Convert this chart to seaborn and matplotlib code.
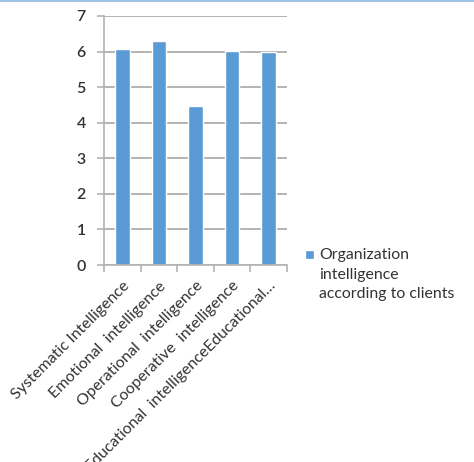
import matplotlib
matplotlib.use("Agg")
import matplotlib.pyplot as plt
from matplotlib.lines import Line2D
import seaborn as sns
import pandas as pd

categories = [
    "Systematic Intelligence",
    "Emotional  intelligence",
    "Operational  intelligence",
    "Cooperative  intelligence",
    "Educational  intelligenceEducational\u2026",
]
values = [6.07, 6.31, 4.46, 6.02, 5.99]
series_name = "Organization\nintelligence\naccording to clients"
y_ticks = [0, 1, 2, 3, 4, 5, 6, 7]

sns.set_theme(style="white")
plt.rcParams["font.family"] = ["Lato", "DejaVu Sans"]

text_color = "#333333"
grid_color = "#b3b3b3"
bar_color = "#5b9bd5"

df = pd.DataFrame({"category": categories, "value": values})

fig = plt.figure(figsize=(4.74, 4.62), dpi=100)
fig.patch.set_facecolor("white")
ax = fig.add_axes([0.2194, 0.4264, 0.3861, 0.539])

sns.barplot(data=df, x="category", y="value", color=bar_color, width=0.4,
            saturation=1, label=series_name, ax=ax)

ax.set_ylim(0, 7)
ax.set_xlim(-0.5, len(categories) - 0.5)
ax.set_yticks(y_ticks)
ax.set_yticklabels([str(t) for t in y_ticks], fontsize=11.5, color=text_color,
                   fontweight="semibold")
ax.yaxis.grid(True, color=grid_color, linewidth=1.4)
ax.set_axisbelow(True)
ax.set_xlabel("")
ax.set_ylabel("")

for side in ["top", "right"]:
    ax.spines[side].set_visible(False)
for side in ["left", "bottom"]:
    ax.spines[side].set_color(grid_color)
    ax.spines[side].set_linewidth(1.2)

ax.tick_params(axis="y", which="major", length=5, width=1.2, color=grid_color,
               direction="out", left=True, pad=8)

# category labels sit between boundary ticks
ax.set_xticks(range(len(categories)))
ax.set_xticklabels(categories, rotation=45, ha="right", va="top",
                   rotation_mode="anchor", fontsize=11.4, color=text_color)
ax.tick_params(axis="x", which="major", length=0, pad=10)
ax.set_xticks([i - 0.5 for i in range(len(categories) + 1)], minor=True)
ax.tick_params(axis="x", which="minor", length=5, width=1.2, color=grid_color,
               direction="out", bottom=True)

leg = ax.legend(loc="upper left", bbox_to_anchor=(305 / 474, 1 - 248 / 462),
                bbox_transform=fig.transFigure, frameon=False,
                borderpad=0, borderaxespad=0,
                fontsize=11.4, handlelength=0.55, handleheight=0.55,
                handletextpad=0.35, labelcolor=text_color)
for t in leg.get_texts():
    t.set_linespacing(1.5)
# put the colour square beside the first line of the label
for p in leg.get_patches():
    p.set_y(p.get_y() + 14.4)

fig.add_artist(Line2D([0, 1], [0.998, 0.998], transform=fig.transFigure,
                      color="#9dc3e6", linewidth=1.5))

fig.savefig("out.png", dpi=100, facecolor="white")
